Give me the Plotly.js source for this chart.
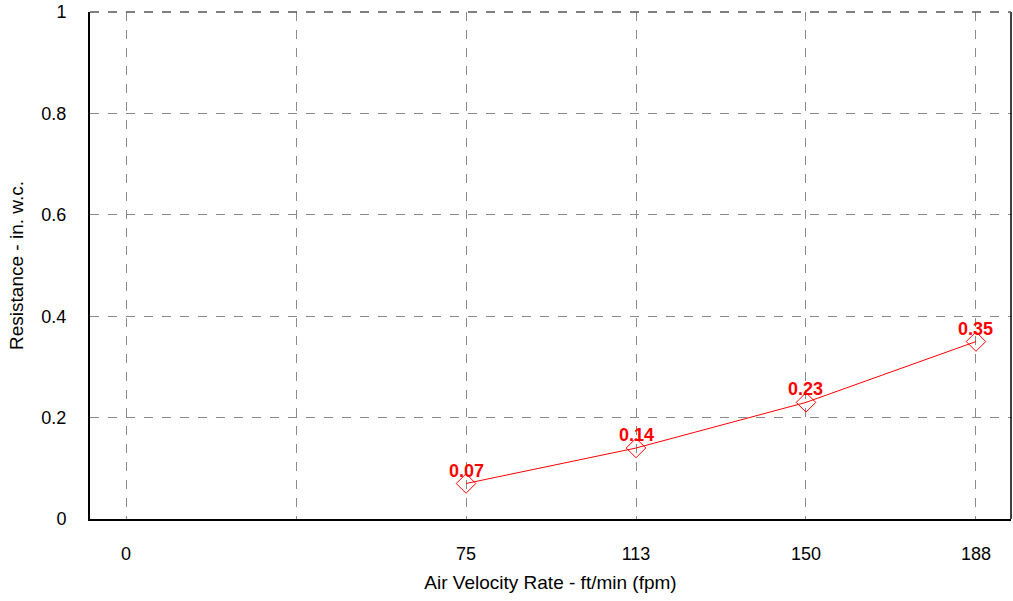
<!DOCTYPE html>
<html>
<head>
<meta charset="utf-8">
<script src="https://cdn.plot.ly/plotly-3.0.1.min.js"></script>
<style>html,body{margin:0;padding:0;background:#fff;}#chart{width:1013px;height:601px;}</style>
</head>
<body>
<div id="chart"></div>
<script>
const categories = ["0", "", "75", "113", "150", "188"];
const velocities = ["75", "113", "150", "188"];
const resistance = [0.07, 0.14, 0.23, 0.35];
const labels = ["0.07", "0.14", "0.23", "0.35"];

const xIdx = velocities.map(v => categories.indexOf(v));
const tickIdx = categories.map((c, i) => i);

const trace = {
  x: xIdx,
  y: resistance,
  mode: "lines+markers",
  type: "scatter",
  line: {color: "#ff0000", width: 1},
  marker: {symbol: "diamond-open", size: 15, color: "#ff0000", line: {width: 1, color: "#ff0000"}},
  cliponaxis: false,
  hoverinfo: "skip"
};

const annotations = xIdx.map((x, i) => ({
  x: x, y: resistance[i], xref: "x", yref: "y",
  text: "<b>" + labels[i] + "</b>",
  showarrow: false, yanchor: "bottom", xanchor: "center", yshift: 1,
  font: {family: "Arial, Liberation Sans, sans-serif", size: 18, color: "#ff0000"}
}));

const layout = {
  width: 1013, height: 601,
  margin: {l: 90, r: 2, t: 12, b: 82},
  paper_bgcolor: "#fff", plot_bgcolor: "#fff",
  showlegend: false,
  font: {family: "Arial, Liberation Sans, sans-serif", size: 18, color: "#000"},
  xaxis: {
    range: [-0.212, 5.206],
    tickvals: tickIdx,
    ticktext: categories,
    showgrid: true, gridcolor: "#8a8a8a", griddash: "dash", gridwidth: 1,
    zeroline: false,
    showline: true, linecolor: "#000", linewidth: 1.5,
    ticks: "outside", ticklen: 18, tickcolor: "rgba(0,0,0,0)",
    tickfont: {size: 18},
    title: {text: "Air Velocity Rate - ft/min (fpm)", font: {size: 19}, standoff: 12}
  },
  yaxis: {
    range: [0, 1],
    tickvals: [0, 0.2, 0.4, 0.6, 0.8, 1],
    ticktext: ["0", "0.2", "0.4", "0.6", "0.8", "1"],
    showgrid: true, gridcolor: "#8a8a8a", griddash: "dash", gridwidth: 1,
    zeroline: false,
    showline: true, linecolor: "#000", linewidth: 2,
    ticks: "outside", ticklen: 18, tickcolor: "rgba(0,0,0,0)",
    tickfont: {size: 18},
    title: {text: "Resistance - in. w.c.", font: {size: 19}, standoff: 13}
  },
  annotations: annotations,
  shapes: [
    {type: "line", xref: "paper", yref: "paper", x0: 1, x1: 1, y0: 0, y1: 1, line: {color: "#000", width: 1.5}},
    {type: "line", xref: "paper", yref: "paper", x0: 0, x1: 1, y0: 1, y1: 1, line: {color: "#555", width: 1.5, dash: "dash"}}
  ]
};

Plotly.newPlot("chart", [trace], layout, {displayModeBar: false, staticPlot: true});
</script>
</body>
</html>
